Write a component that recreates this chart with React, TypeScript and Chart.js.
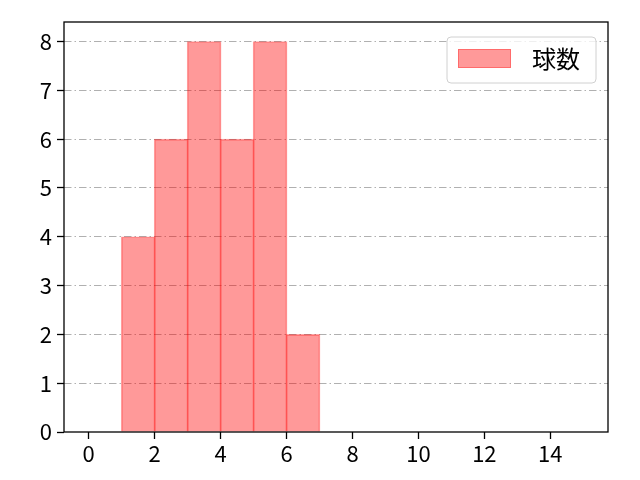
import React, { useEffect, useRef } from "react";
import { Chart, registerables } from "chart.js";

Chart.register(...registerables);

const binCenters = [1.5, 2.5, 3.5, 4.5, 5.5, 6.5];
const counts = [4, 6, 8, 6, 8, 2];
const xTicks = [0, 2, 4, 6, 8, 10, 12, 14];
const yTicks = [0, 1, 2, 3, 4, 5, 6, 7, 8];
const seriesLabel = "球数";

const FONT = "'Noto Sans CJK JP', 'DejaVu Sans', sans-serif";

const framePlugin = {
  id: "frameAndLegend",
  afterDraw(chart: any) {
    const { ctx, chartArea } = chart;
    const { left, right, top, bottom } = chartArea;
    ctx.save();
    ctx.strokeStyle = "#000";
    ctx.lineWidth = 1.3;
    ctx.setLineDash([]);
    ctx.strokeRect(left, top, right - left, bottom - top);

    // legend
    const bx = 447, by = 37, bw = 149, bh = 46, r = 4;
    ctx.fillStyle = "rgba(255,255,255,0.8)";
    ctx.strokeStyle = "#d0d0d0";
    ctx.lineWidth = 1;
    ctx.beginPath();
    ctx.moveTo(bx + r, by);
    ctx.lineTo(bx + bw - r, by);
    ctx.arcTo(bx + bw, by, bx + bw, by + r, r);
    ctx.lineTo(bx + bw, by + bh - r);
    ctx.arcTo(bx + bw, by + bh, bx + bw - r, by + bh, r);
    ctx.lineTo(bx + r, by + bh);
    ctx.arcTo(bx, by + bh, bx, by + bh - r, r);
    ctx.lineTo(bx, by + r);
    ctx.arcTo(bx, by, bx + r, by, r);
    ctx.closePath();
    ctx.fill();
    ctx.stroke();

    ctx.fillStyle = "rgba(255,0,0,0.4)";
    ctx.fillRect(458, 49, 53, 19);
    ctx.strokeStyle = "rgba(255,0,0,0.3)";
    ctx.strokeRect(458.5, 49.5, 52, 18);

    ctx.fillStyle = "#000";
    ctx.font = `24px ${FONT}`;
    ctx.textBaseline = "middle";
    ctx.textAlign = "left";
    ctx.fillText(seriesLabel, 532, 59);
    ctx.restore();
  },
};

export default function App() {
  const ref = useRef<HTMLCanvasElement | null>(null);

  useEffect(() => {
    document.body.style.margin = "0";
    const chart = new Chart(ref.current as HTMLCanvasElement, {
      type: "bar",
      data: {
        datasets: [
          {
            label: seriesLabel,
            data: binCenters.map((x, i) => ({ x, y: counts[i] })),
            backgroundColor: "rgba(255,0,0,0.4)",
            borderColor: "rgba(255,0,0,0.35)",
            borderWidth: 1,
            barThickness: "flex",
            barPercentage: 1.03,
            categoryPercentage: 1,
          } as any,
        ],
      },
      options: {
        animation: false,
        responsive: false,
        maintainAspectRatio: false,
        layout: { padding: { top: 22, right: 32, left: 0, bottom: 0 } },
        plugins: { legend: { display: false }, tooltip: { enabled: false } },
        scales: {
          x: {
            type: "linear",
            offset: false,
            min: -0.75,
            max: 15.75,
            afterBuildTicks: (s: any) => {
              s.ticks = xTicks.map((v) => ({ value: v }));
            },
            afterFit: (s: any) => {
              s.height = 48;
            },
            grid: {
              offset: false,
              drawOnChartArea: false,
              drawTicks: true,
              tickLength: 7,
              tickColor: "#000",
              tickWidth: 1.3,
            },
            border: { display: false },
            ticks: {
              color: "#000",
              font: { family: FONT, size: 22 },
              padding: 1,
              maxRotation: 0,
              autoSkip: false,
            },
          },
          y: {
            type: "linear",
            z: 1,
            min: 0,
            max: 8.4,
            afterBuildTicks: (s: any) => {
              s.ticks = yTicks.map((v) => ({ value: v }));
            },
            afterFit: (s: any) => {
              s.width = 64;
            },
            grid: {
              drawOnChartArea: true,
              drawTicks: true,
              tickLength: 7,
              color: (c: any) => (c.tick && c.tick.value === 0 ? "rgba(0,0,0,0)" : "#b0b0b0"),
              lineWidth: 1,
              tickColor: "#000",
              tickWidth: 1.3,
              tickBorderDash: [],
            } as any,
            border: { display: false, dash: [7.5, 3, 1.5, 3] },
            ticks: {
              color: "#000",
              font: { family: FONT, size: 22 },
              padding: 5,
              autoSkip: false,
            },
          },
        },
      },
      plugins: [framePlugin],
    });
    return () => chart.destroy();
  }, []);

  return (
    <div style={{ position: "absolute", left: 0, top: 0, width: 640, height: 480, background: "#fff" }}>
      <canvas ref={ref} width={640} height={480} style={{ width: 640, height: 480 }} />
    </div>
  );
}
